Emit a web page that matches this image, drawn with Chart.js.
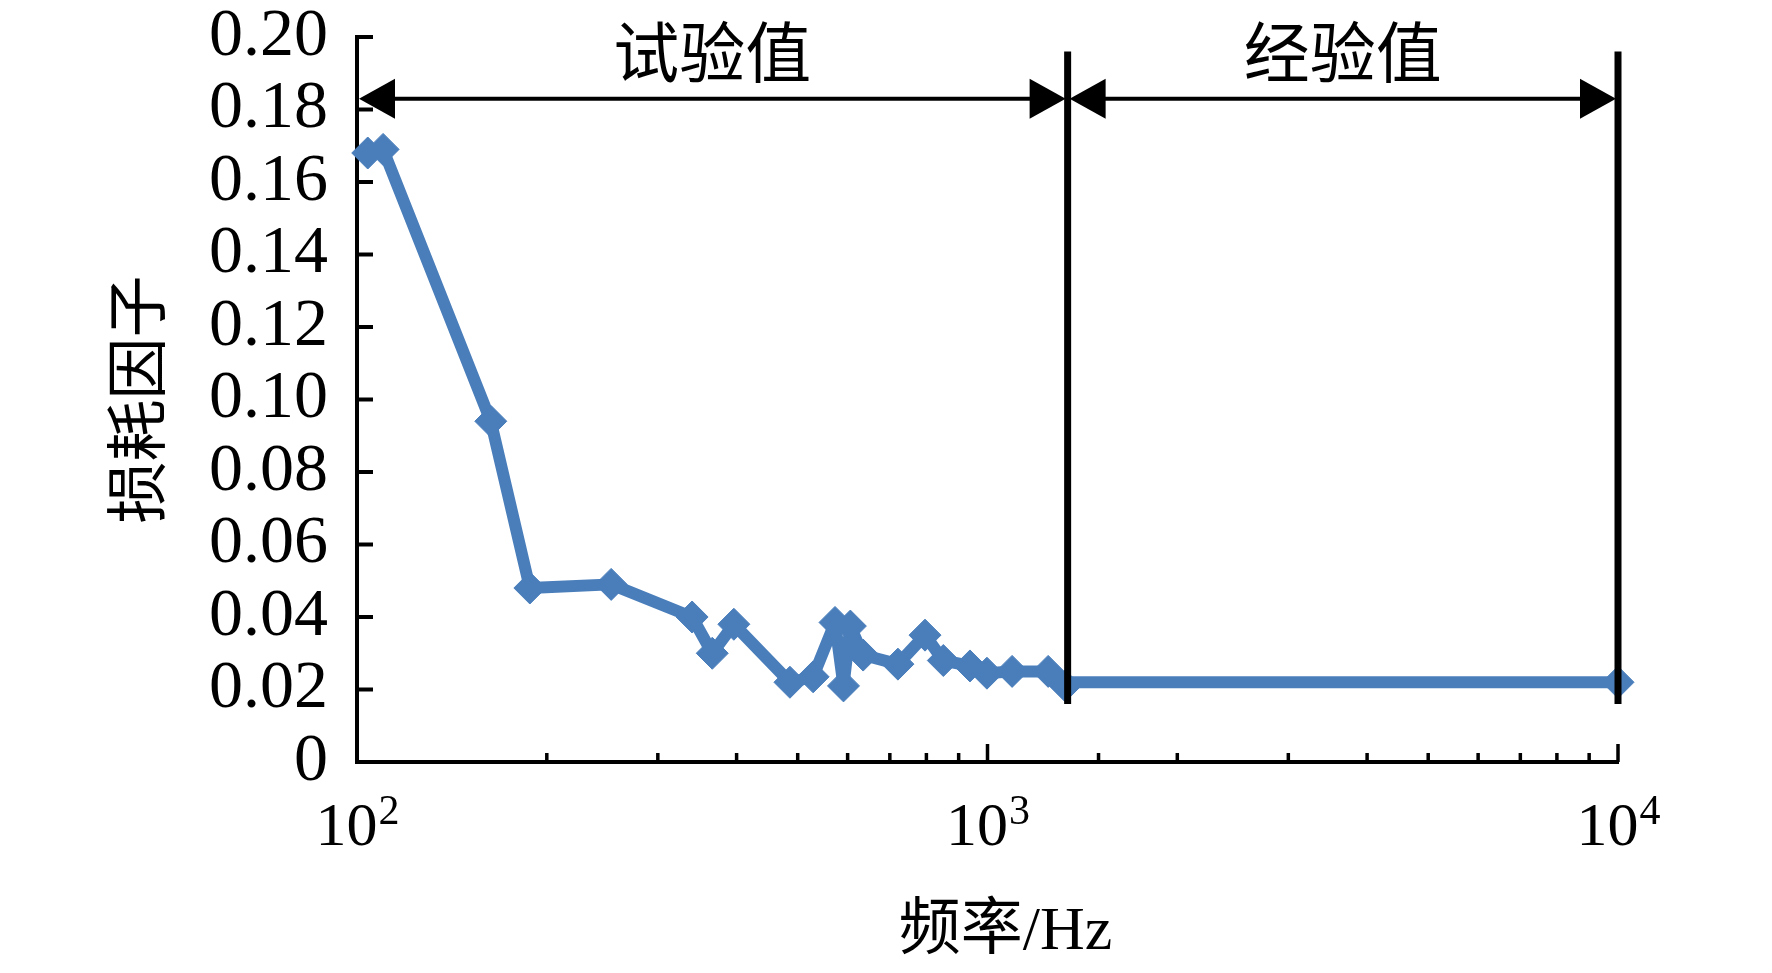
<!DOCTYPE html>
<html>
<head>
<meta charset="utf-8">
<script src="https://cdn.jsdelivr.net/npm/chart.js@4.4.0/dist/chart.umd.min.js"></script>
<style>
html,body{margin:0;padding:0;background:#fff;}
canvas{display:block;}
</style>
</head>
<body>
<canvas id="c" width="1772" height="973"></canvas>
<script>
// ---- data ----
const freqTest = [104, 110, 163, 188, 253, 340, 366, 396, 486, 529, 573, 591, 606, 635, 721, 796, 851, 938, 998, 1094, 1248, 1328];
const lossTest = [0.168, 0.169, 0.094, 0.048, 0.049, 0.040, 0.030, 0.038, 0.022, 0.0235, 0.0385, 0.021, 0.0375, 0.0295, 0.027, 0.035, 0.028, 0.0265, 0.0245, 0.025, 0.025, 0.021];
const freqEmp = [1340, 10000];
const lossEmp = [0.022, 0.022];
const empPointRadius = [0, 16];

const yTicks = [0, 0.02, 0.04, 0.06, 0.08, 0.10, 0.12, 0.14, 0.16, 0.18, 0.20];
const xMajorTicks = [100, 1000, 10000];
const xTickBase = '10';
const xTickExponents = ['2', '3', '4'];

const regionBounds = [100, 1340, 10000];
const regionLabels = ['试验值', '经验值'];
const dividerRange = [0.016, 0.196];
const arrowLevel = 0.183;
const labelLevel = 0.196;

const xTitle = '频率/Hz';
const yTitle = '损耗因子';

const BLUE = 'rgb(74,126,187)';
const SERIF = '"Liberation Serif", "Times New Roman", serif';
const CJK = '"Noto Sans CJK SC", sans-serif';

const decor = {
  id: 'decor',
  afterDatasetsDraw(chart) {
    const {ctx, chartArea: a} = chart;
    const x = chart.scales.x, y = chart.scales.y;
    ctx.save();
    ctx.strokeStyle = '#000';
    ctx.fillStyle = '#000';
    ctx.lineCap = 'butt';

    // inward y ticks
    ctx.lineWidth = 4;
    y.ticks.forEach(t => {
      if (t.value === 0) return;
      const py = y.getPixelForValue(t.value);
      ctx.beginPath();
      ctx.moveTo(a.left, py);
      ctx.lineTo(a.left + 16, py);
      ctx.stroke();
    });

    // inward x ticks (log minor + major)
    ctx.lineWidth = 3.5;
    x.ticks.forEach(t => {
      const px = x.getPixelForValue(t.value);
      if (px <= a.left + 2) return;
      const l = Math.log10(t.value);
      const major = Math.abs(l - Math.round(l)) < 1e-6;
      ctx.beginPath();
      ctx.moveTo(px, a.bottom);
      ctx.lineTo(px, a.bottom - (major ? 18 : 9));
      ctx.stroke();
    });

    // x tick labels 10^n
    ctx.textBaseline = 'alphabetic';
    ctx.textAlign = 'left';
    xMajorTicks.forEach((v, i) => {
      const px = x.getPixelForValue(v);
      ctx.font = '62px ' + SERIF;
      const w1 = ctx.measureText(xTickBase).width;
      ctx.font = '42px ' + SERIF;
      const w2 = ctx.measureText(xTickExponents[i]).width;
      const start = px - (w1 + w2) / 2;
      ctx.font = '62px ' + SERIF;
      ctx.fillText(xTickBase, start, a.bottom + 83);
      ctx.font = '42px ' + SERIF;
      ctx.fillText(xTickExponents[i], start + w1 + 1, a.bottom + 62);
    });

    // x axis title
    ctx.font = '62px ' + SERIF + ', ' + CJK;
    ctx.textAlign = 'center';
    ctx.textBaseline = 'middle';
    ctx.fillText(xTitle, (a.left + a.right) / 2 + 18, a.bottom + 171);

    // dividers
    const yTop = y.getPixelForValue(dividerRange[1]);
    const yBot = y.getPixelForValue(dividerRange[0]);
    ctx.lineWidth = 7;
    for (let i = 1; i < regionBounds.length; i++) {
      const px = x.getPixelForValue(regionBounds[i]);
      ctx.beginPath();
      ctx.moveTo(px, yTop);
      ctx.lineTo(px, yBot);
      ctx.stroke();
    }

    // double arrows
    const ay = y.getPixelForValue(arrowLevel);
    const hl = 36, hw = 20;
    ctx.lineWidth = 4;
    for (let i = 0; i < regionBounds.length - 1; i++) {
      const x0 = x.getPixelForValue(regionBounds[i]) + 2;
      const x1 = x.getPixelForValue(regionBounds[i + 1]) - 2;
      ctx.beginPath();
      ctx.moveTo(x0 + hl - 2, ay);
      ctx.lineTo(x1 - hl + 2, ay);
      ctx.stroke();
      ctx.beginPath();
      ctx.moveTo(x0, ay);
      ctx.lineTo(x0 + hl, ay - hw);
      ctx.lineTo(x0 + hl, ay + hw);
      ctx.closePath();
      ctx.fill();
      ctx.beginPath();
      ctx.moveTo(x1, ay);
      ctx.lineTo(x1 - hl, ay - hw);
      ctx.lineTo(x1 - hl, ay + hw);
      ctx.closePath();
      ctx.fill();
    }

    // region labels
    ctx.font = '66px ' + CJK;
    ctx.textAlign = 'center';
    ctx.textBaseline = 'middle';
    const ly = y.getPixelForValue(labelLevel);
    for (let i = 0; i < regionLabels.length; i++) {
      const cx = (x.getPixelForValue(regionBounds[i]) + x.getPixelForValue(regionBounds[i + 1])) / 2;
      ctx.fillText(regionLabels[i], cx, ly);
    }
    ctx.restore();
  }
};

const toPts = (xs, ys) => xs.map((v, i) => ({x: v, y: ys[i]}));

const lineStyle = {
  showLine: true,
  borderColor: BLUE,
  backgroundColor: BLUE,
  borderWidth: 12,
  borderJoinStyle: 'round',
  pointStyle: 'rectRot',
  pointBorderWidth: 1,
  pointBorderColor: BLUE,
  pointBackgroundColor: BLUE,
  tension: 0,
  clip: false
};

new Chart(document.getElementById('c'), {
  type: 'scatter',
  data: {
    datasets: [
      Object.assign({data: toPts(freqTest, lossTest), pointRadius: 16}, lineStyle),
      Object.assign({data: toPts(freqEmp, lossEmp), pointRadius: empPointRadius}, lineStyle)
    ]
  },
  options: {
    responsive: false,
    animation: false,
    devicePixelRatio: 1,
    layout: {padding: {top: 37, right: 154, bottom: 0, left: 0}},
    plugins: {legend: {display: false}, tooltip: {enabled: false}},
    scales: {
      x: {
        type: 'logarithmic',
        min: 100,
        max: 10000,
        grid: {display: false, drawTicks: false},
        border: {display: true, color: '#000', width: 4},
        ticks: {display: false},
        title: {display: false, text: xTitle},
        afterFit: s => { s.height = 211; s.paddingLeft = 0; s.paddingRight = 0; }
      },
      y: {
        type: 'linear',
        min: 0,
        max: 0.2,
        grid: {display: false, drawTicks: false},
        border: {display: true, color: '#000', width: 4},
        afterBuildTicks: s => { s.ticks = yTicks.map(v => ({value: v})); },
        ticks: {
          color: '#000',
          padding: 29,
          font: {family: SERIF, size: 68, lineHeight: 1},
          callback: v => (v === 0 ? '0' : v.toFixed(2))
        },
        title: {
          display: true,
          text: yTitle,
          color: '#000',
          font: {family: CJK, size: 62, lineHeight: 1},
          padding: {top: 105, bottom: 0}
        },
        afterFit: s => { s.width = 357; s.paddingTop = 0; s.paddingBottom = 0; }
      }
    }
  },
  plugins: [decor]
});
</script>
</body>
</html>
